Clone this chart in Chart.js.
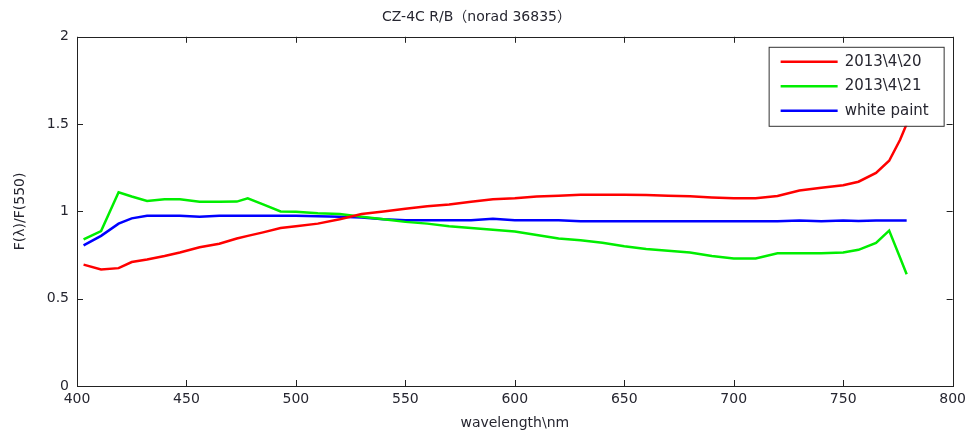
<!DOCTYPE html>
<html>
<head>
<meta charset="utf-8">
<script src="https://cdn.jsdelivr.net/npm/chart.js"></script>
<style>
    html, body { margin: 0; padding: 0; background: #fff; }
    #wrap { position: relative; width: 971px; height: 436px; }
</style>
</head>
<body>
<div id="wrap"><canvas id="spectra"></canvas></div>
<script>
// wavelength samples (nm)
var wavelength = [403, 411, 419, 425, 432, 440, 447, 456, 465, 473, 478, 485, 493, 500,
    510, 520, 530, 540, 550, 560, 570, 580, 590, 600, 610, 620, 630, 640, 650, 660,
    670, 680, 690, 700, 710, 720, 730, 740, 750, 757, 765, 771, 776, 779];

// normalised reflectance F(λ)/F(550)
var apr20 = [0.695, 0.667, 0.675, 0.71, 0.725, 0.745, 0.765, 0.795, 0.815, 0.845, 0.86, 0.88, 0.905, 0.915,
    0.93, 0.955, 0.985, 1.0, 1.015, 1.03, 1.04, 1.055, 1.07, 1.075, 1.085, 1.09, 1.095, 1.095, 1.095, 1.094,
    1.09, 1.087, 1.08, 1.075, 1.075, 1.088, 1.12, 1.135, 1.15, 1.17, 1.22, 1.29, 1.41, 1.50];
var apr21 = [0.84, 0.887, 1.11, 1.085, 1.06, 1.07, 1.07, 1.055, 1.055, 1.056, 1.075, 1.04, 1.0, 0.998,
    0.99, 0.985, 0.97, 0.955, 0.94, 0.93, 0.915, 0.905, 0.895, 0.885, 0.865, 0.845, 0.835, 0.82, 0.80, 0.785,
    0.775, 0.765, 0.745, 0.73, 0.73, 0.76, 0.76, 0.76, 0.765, 0.78, 0.82, 0.89, 0.735, 0.64];
var whitePaint = [0.805, 0.86, 0.93, 0.96, 0.975, 0.975, 0.975, 0.97, 0.975, 0.975, 0.975, 0.975, 0.975, 0.975,
    0.972, 0.97, 0.965, 0.955, 0.95, 0.95, 0.95, 0.95, 0.958, 0.95, 0.95, 0.95, 0.943, 0.943, 0.943, 0.943,
    0.943, 0.943, 0.943, 0.943, 0.943, 0.943, 0.948, 0.943, 0.948, 0.945, 0.948, 0.948, 0.948, 0.948];

var seriesNames = ['2013\\4\\20', '2013\\4\\21', 'white paint'];
var seriesColors = ['#ff0000', '#00ee00', '#0000ff'];
var seriesValues = [apr20, apr21, whitePaint];

var xTicks = [400, 450, 500, 550, 600, 650, 700, 750, 800];
var yTicks = [0, 0.5, 1, 1.5, 2];

function toPoints(values) {
    return values.map(function (v, i) { return { x: wavelength[i], y: v }; });
}

var textColor = '#262630';
var fontFamily = '"DejaVu Sans", "Noto Sans CJK SC", sans-serif';

// matlab style axes: full box, ticks pointing inward, legend in the upper right
var boxPlugin = {
    id: 'boxAxes',
    afterDatasetsDraw: function (chart) {
        var ctx = chart.ctx;
        var a = chart.chartArea;
        var xs = chart.scales.x, ys = chart.scales.y;
        ctx.save();
        ctx.strokeStyle = '#222';
        ctx.lineWidth = 1;
        ctx.beginPath();
        xTicks.forEach(function (t) {
            var px = Math.round(xs.getPixelForValue(t)) + 0.5;
            ctx.moveTo(px, a.bottom); ctx.lineTo(px, a.bottom - 6);
            ctx.moveTo(px, a.top); ctx.lineTo(px, a.top + 6);
        });
        yTicks.forEach(function (t) {
            var py = Math.round(ys.getPixelForValue(t)) + 0.5;
            ctx.moveTo(a.left, py); ctx.lineTo(a.left + 6, py);
            ctx.moveTo(a.right, py); ctx.lineTo(a.right - 6, py);
        });
        ctx.stroke();
        ctx.strokeRect(Math.round(a.left) + 0.5, Math.round(a.top) + 0.5,
            Math.round(a.right - a.left), Math.round(a.bottom - a.top));

        // legend
        var lx = a.right - 184, ly = a.top + 10, lw = 175, lh = 79;
        ctx.fillStyle = '#fff';
        ctx.fillRect(lx, ly, lw, lh);
        ctx.strokeStyle = '#333';
        ctx.strokeRect(lx + 0.5, ly + 0.5, lw, lh);
        ctx.font = '15px ' + fontFamily;
        ctx.textBaseline = 'middle';
        chart.data.datasets.forEach(function (ds, i) {
            var rowY = ly + 15 + i * 24.5;
            ctx.strokeStyle = ds.borderColor;
            ctx.lineWidth = 2.5;
            ctx.beginPath();
            ctx.moveTo(lx + 12, rowY); ctx.lineTo(lx + 69, rowY);
            ctx.stroke();
            ctx.fillStyle = textColor;
            ctx.fillText(ds.label, lx + 76, rowY);
        });
        ctx.restore();
    }
};

new Chart(document.getElementById('spectra'), {
    type: 'line',
    data: {
        datasets: seriesValues.map(function (vals, i) {
            return {
                label: seriesNames[i],
                data: toPoints(vals),
                borderColor: seriesColors[i],
                backgroundColor: seriesColors[i],
                borderWidth: 2.5,
                pointRadius: 0,
                tension: 0,
                fill: false
            };
        })
    },
    options: {
        responsive: true,
        maintainAspectRatio: false,
        animation: false,
        layout: { padding: { left: 0, right: 18, top: 0, bottom: 0 } },
        plugins: {
            legend: { display: false },
            tooltip: { enabled: false },
            title: {
                display: true,
                text: 'CZ-4C R/B（norad 36835）',
                color: textColor,
                font: { family: fontFamily, size: 14, weight: 'normal' },
                padding: { top: 9, bottom: 11 }
            }
        },
        scales: {
            x: {
                type: 'linear',
                min: 400,
                max: 800,
                afterFit: function (s) { s.height = 50; },
                afterBuildTicks: function (s) { s.ticks = xTicks.map(function (v) { return { value: v }; }); },
                grid: { display: false, drawTicks: false },
                border: { display: false },
                ticks: { color: textColor, padding: 5, maxRotation: 0, font: { family: fontFamily, size: 14 } },
                title: {
                    display: true,
                    text: 'wavelength\\nm',
                    color: textColor,
                    font: { family: fontFamily, size: 14 },
                    padding: { top: 0, bottom: 4 }
                }
            },
            y: {
                min: 0,
                max: 2,
                afterFit: function (s) { s.width = 77; },
                afterBuildTicks: function (s) { s.ticks = yTicks.map(function (v) { return { value: v }; }); },
                grid: { display: false, drawTicks: false },
                border: { display: false },
                ticks: {
                    color: textColor,
                    padding: 8,
                    font: { family: fontFamily, size: 14 },
                    callback: function (v) { return String(v); }
                },
                title: {
                    display: true,
                    text: 'F(λ)/F(550)',
                    color: textColor,
                    font: { family: fontFamily, size: 14 },
                    padding: { top: 12, bottom: 0 }
                }
            }
        }
    },
    plugins: [boxPlugin]
});
</script>
</body>
</html>
